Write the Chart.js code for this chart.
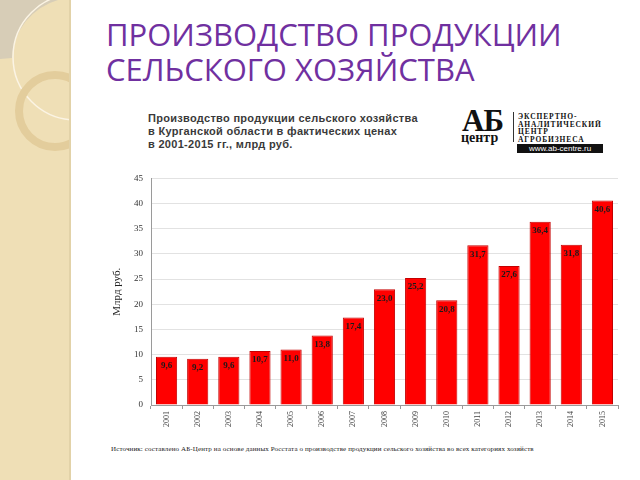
<!DOCTYPE html>
<html>
<head>
<meta charset="utf-8">
<script src="https://cdn.jsdelivr.net/npm/chart.js@4/dist/chart.umd.min.js"></script>
<style>
  body { margin: 0; width: 640px; height: 480px; background: #fff; position: relative; overflow: hidden; }
  #strip { position: absolute; left: 0; top: 0; }
  #title { position: absolute; left: 106px; top: 17px; color: #7030a0; font-family: "Open Sans", sans-serif; font-size: 31px; line-height: 35px; white-space: nowrap; }
  #subtitle { position: absolute; left: 148px; top: 112px; color: #3a3a3a; font-family: "Liberation Sans", sans-serif; font-weight: bold; font-size: 11px; line-height: 13px; white-space: nowrap; letter-spacing: 0.3px; }
  #logo { position: absolute; left: 458px; top: 108px; width: 150px; height: 50px; font-family: "Liberation Serif", serif; color: #111; }
  #logo .ab { position: absolute; left: 4px; top: -5px; font-size: 31px; font-weight: bold; letter-spacing: -1px; }
  #logo .centr { position: absolute; left: 3px; top: 22px; font-size: 14px; font-weight: bold; }
  #logo .vline { position: absolute; left: 55px; top: 4px; width: 1px; height: 30px; background: #333; }
  #logo .words { position: absolute; left: 60px; top: 5px; font-size: 7.5px; font-weight: bold; line-height: 7.5px; letter-spacing: 0.9px; }
  #logo .url { position: absolute; left: 59px; top: 36px; width: 86px; height: 9px; background: #111; color: #fff; font-family: "Liberation Sans", sans-serif; font-size: 8px; line-height: 9px; text-align: center; }
  #chartBox { position: absolute; left: 101px; top: 165px; width: 525px; height: 270px; }
  #source { position: absolute; left: 111px; top: 445px; font-family: "Liberation Serif", serif; font-size: 7px; color: #222; white-space: nowrap; letter-spacing: 0.12px; }
</style>
</head>
<body>
<svg id="strip" width="72" height="480">
  <defs><clipPath id="clip"><rect x="0" y="0" width="70" height="480"/></clipPath></defs>
  <rect x="0" y="0" width="70" height="480" fill="#efdfb6"/>
  <g clip-path="url(#clip)">
    <path d="M0 0 L58 0 A63 63 0 0 0 12 58 L0 59 Z" fill="#d7cdb7"/>
    <circle cx="76" cy="57" r="63" fill="none" stroke="#fbf4e4" stroke-width="1.5"/>
    <circle cx="55" cy="111" r="36" fill="none" stroke="#e3cd9c" stroke-width="8"/>
  </g>
  <rect x="69" y="0" width="2" height="480" fill="#e2d2a8"/>
</svg>

<div id="title">ПРОИЗВОДСТВО ПРОДУКЦИИ<br>СЕЛЬСКОГО ХОЗЯЙСТВА</div>

<div id="subtitle">Производство продукции сельского хозяйства<br>в Курганской области в фактических ценах<br>в 2001-2015 гг., млрд руб.</div>

<div id="logo">
  <div class="ab">АБ</div>
  <div class="centr">центр</div>
  <div class="vline"></div>
  <div class="words">ЭКСПЕРТНО-<br>АНАЛИТИЧЕСКИЙ<br>ЦЕНТР<br>АГРОБИЗНЕСА</div>
  <div class="url">www.ab-centre.ru</div>
</div>

<div id="chartBox"><canvas id="chart" width="525" height="270"></canvas></div>

<div id="source">Источник: составлено АБ-Центр на основе данных Росстата о производстве продукции сельского хозяйства во всех категориях хозяйств</div>

<script>
const years = ["2001", "2002", "2003", "2004", "2005", "2006", "2007", "2008",
  "2009", "2010", "2011", "2012", "2013", "2014", "2015"];
const production = [9.6, 9.2, 9.6, 10.7, 11.0, 13.8, 17.4, 23.0, 25.2, 20.8, 31.7, 27.6, 36.4, 31.8, 40.6];
const yMax = 45;
const yStep = 5;

// value labels written with a decimal comma, as in the source
const valueLabels = production.map((v) => v.toFixed(1).replace(".", ","));

const barLabels = {
  id: "barLabels",
  afterDatasetsDraw(chart) {
    const ctx = chart.ctx;
    const meta = chart.getDatasetMeta(0);
    ctx.save();
    ctx.font = "bold 9px 'Liberation Serif', serif";
    ctx.fillStyle = "#1a1a1a";
    ctx.textAlign = "center";
    ctx.textBaseline = "middle";
    meta.data.forEach((bar, i) => {
      ctx.fillText(valueLabels[i], bar.x, bar.y + 9);
    });
    ctx.restore();
  },
};

new Chart(document.getElementById("chart"), {
  type: "bar",
  data: {
    labels: years,
    datasets: [
      {
        data: production,
        backgroundColor: "#ff0000",
        borderColor: "#c40000",
        borderWidth: 1,
        categoryPercentage: 1,
        barPercentage: 0.68,
      },
    ],
  },
  options: {
    responsive: false,
    animation: false,
    layout: { padding: { top: 10, right: 8, left: 0, bottom: 0 } },
    plugins: { legend: { display: false }, tooltip: { enabled: false } },
    scales: {
      y: {
        min: 0,
        max: yMax,
        ticks: { stepSize: yStep, padding: 8, color: "#333", font: { family: "Liberation Serif", size: 9 } },
        grid: { color: "#e2e2e2", drawTicks: false },
        border: { color: "#9a9a9a" },
        title: {
          display: true,
          text: "Млрд руб.",
          color: "#222",
          font: { family: "Liberation Serif", size: 11 },
          padding: { top: 10, bottom: 0 },
        },
        afterFit: (scale) => { scale.width = 50; },
      },
      x: {
        grid: { offset: true, drawOnChartArea: false, drawTicks: true, tickLength: 4, color: "#999" },
        border: { color: "#9a9a9a" },
        ticks: {
          autoSkip: false,
          minRotation: 90,
          maxRotation: 90,
          padding: 2,
          color: "#444",
          font: { family: "Liberation Serif", size: 8 },
        },
        afterFit: (scale) => { scale.height = 30; },
      },
    },
  },
  plugins: [barLabels],
});
</script>
</body>
</html>
